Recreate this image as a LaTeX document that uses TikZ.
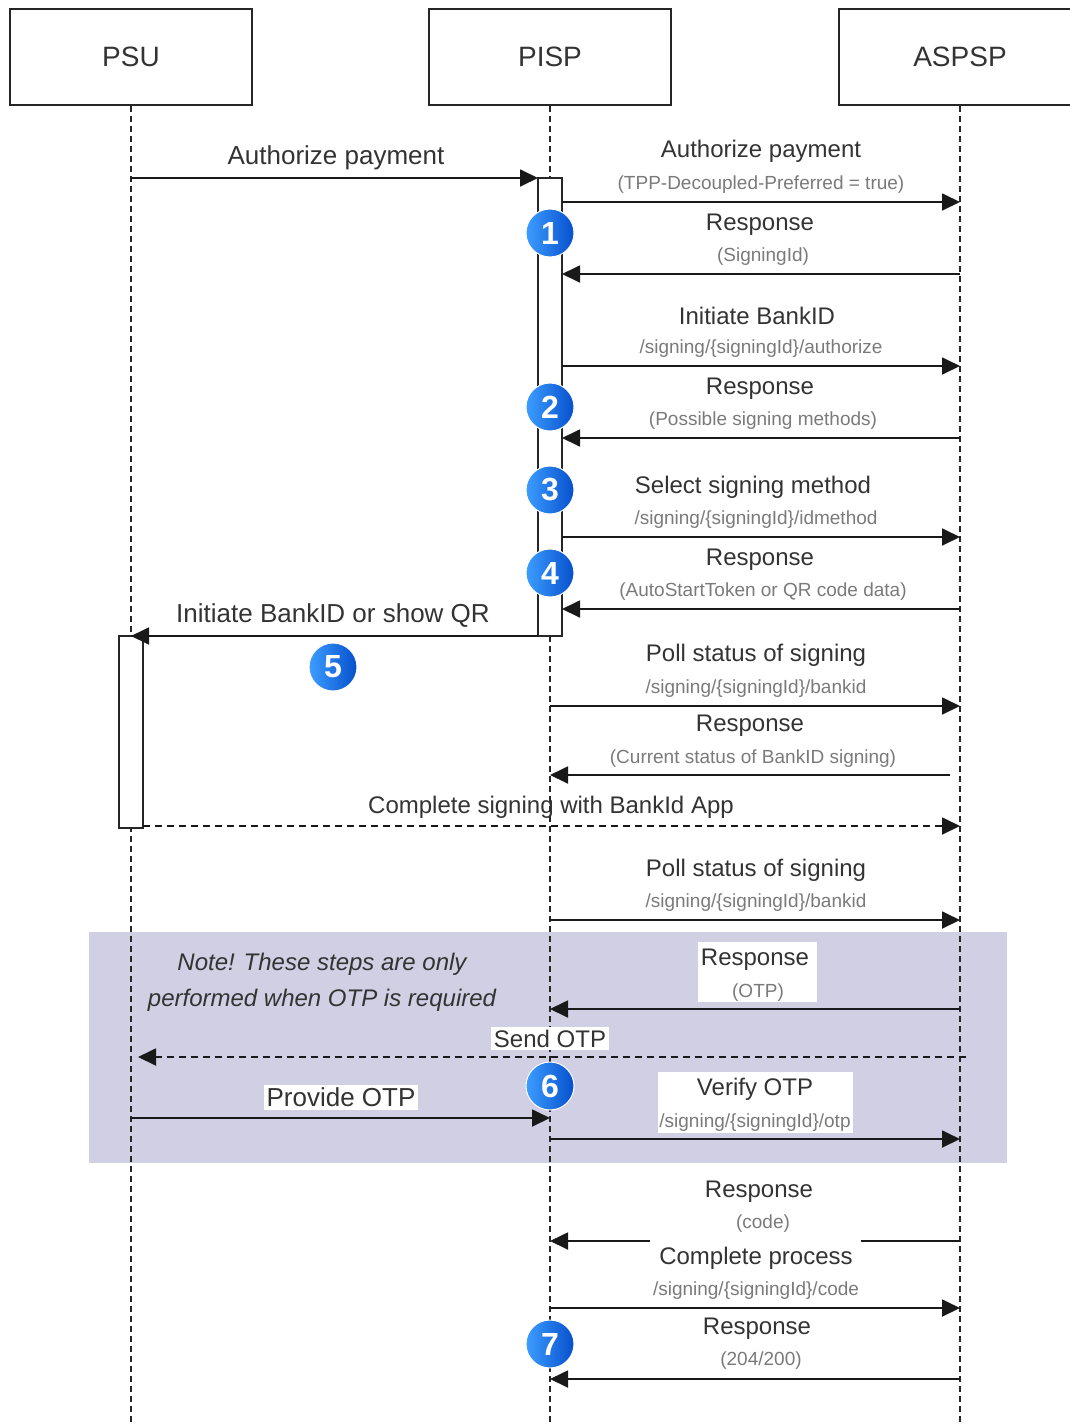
\documentclass[tikz,border=0pt]{standalone}
\usepackage{fontspec}
\setmainfont{Liberation Sans}
\usetikzlibrary{arrows.meta}
\definecolor{txt}{HTML}{333333}
\definecolor{subt}{HTML}{7A7A7A}
\definecolor{notebg}{HTML}{D0CFE3}
\definecolor{bluel}{HTML}{3D9DFF}
\definecolor{blued}{HTML}{0650CC}
\begin{document}
\begin{tikzpicture}[x=1pt,y=-1pt,
  actor/.style={draw=black!85,line width=1.6pt,minimum width=242pt,minimum height=96pt,inner sep=0pt,font=\fontsize{28}{32}\selectfont,text=txt},
  life/.style={draw=black!85,line width=1.4pt,dash pattern=on 6pt off 4pt},
  actbox/.style={draw=black!85,fill=white,line width=1.6pt,minimum width=24pt,inner sep=0pt},
  msg/.style={draw=black!90,line width=1.8pt,-{Triangle[length=18pt,width=17pt]}},
  dmsg/.style={msg,dash pattern=on 7pt off 5pt},
  lbl/.style={font=\fontsize{24}{28}\selectfont,text=txt,inner sep=1pt,yshift=-2.5pt},
  biglbl/.style={font=\fontsize{26}{30}\selectfont,text=txt,inner sep=1pt,yshift=-2.5pt},
  sub/.style={font=\fontsize{19}{22}\selectfont,text=subt,inner sep=1pt,yshift=-2.5pt},
  note/.style={font=\fontsize{24}{28}\selectfont\itshape,text=txt,inner sep=1pt,yshift=-2.5pt},
  wbox/.style={fill=white,draw=none,inner sep=0pt},
  num/.style={circle,minimum size=48pt,inner sep=0pt,left color=bluel,right color=blued,draw=white,line width=1pt,text=white,font=\fontsize{32}{32}\selectfont\bfseries}]
\useasboundingbox (0,0) rectangle (1070,1424);
% note background
\node[fill=notebg,draw=none,minimum width=918pt,minimum height=231pt,inner sep=0pt] (notebox) at (548,1047.5) {};
% actors
\node[actor] (psu) at (131,57) {PSU};
\node[actor] (pisp) at (550,57) {PISP};
\node[actor] (aspsp) at (960,57) {ASPSP};
\coordinate (psuEnd) at (131,1424);
\coordinate (pispEnd) at (550,1424);
\coordinate (aspspEnd) at (960,1424);
\draw[life] (psu.south) -- (psuEnd);
\draw[life] (pisp.south) -- (pispEnd);
\draw[life] (aspsp.south) -- (aspspEnd);
% activations
\node[actbox,minimum height=458pt] (actP) at (550,407) {};
\node[actbox,minimum height=192pt] (actU) at (131,732) {};
% message end points
\coordinate (a1) at (131,178);  \coordinate (b1) at (538,178);
\coordinate (a2) at (562,202);  \coordinate (b2) at (960,202);
\coordinate (a3) at (960,274);  \coordinate (b3) at (562,274);
\coordinate (a4) at (562,366);  \coordinate (b4) at (960,366);
\coordinate (a5) at (960,438);  \coordinate (b5) at (562,438);
\coordinate (a6) at (562,537);  \coordinate (b6) at (960,537);
\coordinate (a7) at (960,609);  \coordinate (b7) at (562,609);
\coordinate (a8) at (538,636);  \coordinate (b8) at (131,636);
\coordinate (a9) at (550,706);  \coordinate (b9) at (960,706);
\coordinate (a10) at (950,775); \coordinate (b10) at (550,775);
\coordinate (a11) at (143,826); \coordinate (b11) at (960,826);
\coordinate (a12) at (550,920); \coordinate (b12) at (960,920);
\coordinate (a13) at (960,1009); \coordinate (b13) at (550,1009);
\coordinate (a14) at (966,1057); \coordinate (b14) at (138,1057);
\coordinate (a15) at (131,1118); \coordinate (b15) at (550,1118);
\coordinate (a16) at (550,1139); \coordinate (b16) at (960,1139);
\coordinate (a17) at (960,1241); \coordinate (b17) at (550,1241);
\coordinate (a18) at (550,1308); \coordinate (b18) at (960,1308);
\coordinate (a19) at (960,1379); \coordinate (b19) at (550,1379);
\draw[msg] (a1) -- (b1);
\draw[msg] (a2) -- (b2);
\draw[msg] (a3) -- (b3);
\draw[msg] (a4) -- (b4);
\draw[msg] (a5) -- (b5);
\draw[msg] (a6) -- (b6);
\draw[msg] (a7) -- (b7);
\draw[msg] (a8) -- (b8);
\draw[msg] (a9) -- (b9);
\draw[msg] (a10) -- (b10);
\draw[dmsg] (a11) -- (b11);
\draw[msg] (a12) -- (b12);
\draw[msg] (a13) -- (b13);
\draw[dmsg] (a14) -- (b14);
\draw[msg] (a15) -- (b15);
\draw[msg] (a16) -- (b16);
\draw[msg] (a17) -- (b17);
\draw[msg] (a18) -- (b18);
\draw[msg] (a19) -- (b19);
% white label backgrounds
\node[wbox,minimum width=119pt,minimum height=60pt] (wOTP) at (757.5,972) {};
\node[wbox,minimum width=195pt,minimum height=61pt] (wVerify) at (755.5,1102.5) {};
\node[wbox,minimum width=211pt,minimum height=64pt] (wComplete) at (755.5,1269) {};
% labels
\node[biglbl] (l1) at (336,155) {Authorize payment};
\node[lbl] (l2) at (761,149) {Authorize payment};
\node[sub] (s2) at (761,182) {(TPP-Decoupled-Preferred = true)};
\node[lbl] (l3) at (760,222) {Response};
\node[sub] (s3) at (763,254) {(SigningId)};
\node[lbl] (l4) at (757,313) {Initiate BankID};
\node[sub] (s4) at (761,346) {/signing/\{signingId\}/authorize};
\node[lbl] (l5) at (760,386) {Response};
\node[sub] (s5) at (763,418) {(Possible signing methods)};
\node[lbl] (l6) at (753,485) {Select signing method};
\node[sub] (s6) at (756,517) {/signing/\{signingId\}/idmethod};
\node[lbl] (l7) at (760,557) {Response};
\node[sub] (s7) at (763,589) {(AutoStartToken or QR code data)};
\node[biglbl] (l8) at (333,613) {Initiate BankID or show QR};
\node[lbl] (l9) at (756,653) {Poll status of signing};
\node[sub] (s9) at (756,686) {/signing/\{signingId\}/bankid};
\node[lbl] (l10) at (750,723) {Response};
\node[sub] (s10) at (753,756) {(Current status of BankID signing)};
\node[lbl] (l11) at (551,805) {Complete signing with BankId App};
\node[lbl] (l12) at (756,868) {Poll status of signing};
\node[sub] (s12) at (756,900) {/signing/\{signingId\}/bankid};
\node[note] (n1) at (322,962) {Note! These steps are only};
\node[note] (n2) at (322,998) {performed when OTP is required};
\node[lbl] (l13) at (755,957) {Response};
\node[sub] (s13) at (758,990) {(OTP)};
\node[lbl,fill=white,inner sep=3pt] (l14) at (550,1036) {Send OTP};
\node[biglbl,fill=white,inner sep=3pt] (l15) at (341,1095) {Provide OTP};
\node[lbl] (l16) at (755,1087) {Verify OTP};
\node[sub] (s16) at (755,1120) {/signing/\{signingId\}/otp};
\node[lbl] (l17) at (759,1189) {Response};
\node[sub] (s17) at (763,1221) {(code)};
\node[lbl] (l18) at (756,1256) {Complete process};
\node[sub] (s18) at (756,1288) {/signing/\{signingId\}/code};
\node[lbl] (l19) at (757,1326) {Response};
\node[sub] (s19) at (761,1358) {(204/200)};
% step markers
\node[num] (c1) at (550,233) {1};
\node[num] (c2) at (550,407) {2};
\node[num] (c3) at (550,490) {3};
\node[num] (c4) at (550,573) {4};
\node[num] (c5) at (333,667) {5};
\node[num] (c6) at (550,1086) {6};
\node[num] (c7) at (550,1344) {7};
\end{tikzpicture}
\end{document}
